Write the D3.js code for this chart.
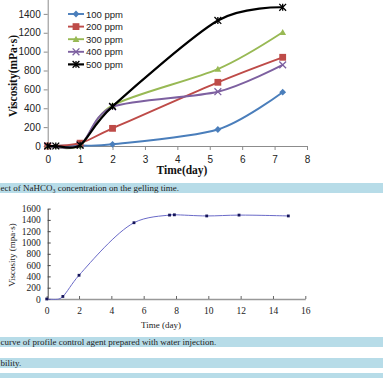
<!DOCTYPE html>
<html><head><meta charset="utf-8">
<script src="https://cdn.jsdelivr.net/npm/d3@7"></script>
<style>body{margin:0;background:#fff}svg{display:block}</style>
</head><body>
<script>
// ---- Top chart data ----
const seriesNames = ["100 ppm","200 ppm","300 ppm","400 ppm","500 ppm"];
const days100 = [0,1,2,5.25,7.25];
const visc100 = [0,5,18,175,570];
const days200 = [0,1,2,5.25,7.25];
const visc200 = [0,30,187,675,940];
const days300 = [0,1,2,5.25,7.25];
const visc300 = [0,5,430,815,1205];
const days400 = [0,1,2,5.25,7.25];
const visc400 = [0,10,415,575,860];
const days500 = [0,0.25,1,2,5.25,7.25];
const visc500 = [0,0,10,420,1330,1470];
const topXTicks = [0,1,2,3,4,5,6,7,8];
const topYTicks = [0,200,400,600,800,1000,1200,1400];
// ---- Bottom chart data ----
const botDays = [0,0.75,1,2,5.4,7.6,7.9,9.9,11.9,14.95];
const botVisc = [0,0,45,420,1350,1485,1490,1470,1485,1470];
const botXTicks = [0,2,4,6,8,10,12,14,16];
const botYTicks = [0,200,400,600,800,1000,1200,1400,1600];
// ---- Captions ----
const captions = [
  "ect of NaHCO\u2083 concentration on the gelling time.",
  "curve of profile control agent prepared with water injection.",
  "bility.",
  ""
];

const W=383,H=378;
const serif="'Liberation Serif', 'Times New Roman', serif";
const sans="'Liberation Sans', Arial, sans-serif";
const svg=d3.select("body").append("svg").attr("width",W).attr("height",H);

// caption bands
const bandY=[183,337,358,373];
const bandH=[10,10,10,8];
captions.forEach((t,i)=>{
  svg.append("rect").attr("x",0).attr("y",bandY[i]).attr("width",W).attr("height",bandH[i]).attr("fill","#b7dce8");
  if(t) svg.append("text").attr("x",0.5).attr("y",bandY[i]+8).attr("font-family",serif)
     .attr("font-size",9).attr("fill","#222").text(t);
});

// ---- Top chart ----
const x1=d3.scaleLinear().domain([0,8]).range([47.7,307]);
const y1=d3.scaleLinear().domain([0,1600]).range([146,-5]);
const g1=svg.append("g");
const axisCol="#8c8c8c";
const xa1=g1.append("g").attr("transform","translate(0,146)")
  .call(d3.axisBottom(x1).tickValues(topXTicks).tickSize(4).tickSizeOuter(0).tickFormat(d3.format("d")));
const ya1=g1.append("g").attr("transform","translate(47.7,0)")
  .call(d3.axisLeft(y1).tickValues(topYTicks).tickSize(4).tickSizeOuter(0).tickFormat(d3.format("d")));
[xa1,ya1].forEach(a=>{
  a.selectAll("path,line").attr("stroke",axisCol);
  a.selectAll("text").attr("font-family",sans).attr("font-size",10).attr("fill","#222");
});
xa1.selectAll("text").attr("dy","1em").attr("y",7);
ya1.selectAll("text").attr("x",-7);

g1.append("text").attr("transform","translate(17,76) rotate(-90)").attr("text-anchor","middle")
  .attr("font-family",serif).attr("font-weight","bold").attr("font-size",11.5)
  .attr("fill","#111").text("Viscosity(mPa\u00b7s)");
g1.append("text").attr("x",182).attr("y",174).attr("text-anchor","middle")
  .attr("font-family",serif).attr("font-weight","bold").attr("font-size",11.5)
  .attr("fill","#111").text("Time(day)");

const colors=["#4a7ebb","#be4b48","#98b954","#7d60a0","#000000"];
const allDays=[days100,days200,days300,days400,days500];
const allVisc=[visc100,visc200,visc300,visc400,visc500];
const line1=d3.line().x(d=>x1(d[0])).y(d=>y1(d[1])).curve(d3.curveCardinal.tension(0.15));

function marker(g,type,cx,cy,col){
  const s=3.4;
  if(type===0){ g.append("path").attr("d",`M${cx},${cy-s} L${cx+s},${cy} L${cx},${cy+s} L${cx-s},${cy}Z`).attr("fill",col); }
  else if(type===1){ g.append("rect").attr("x",cx-s).attr("y",cy-s).attr("width",2*s).attr("height",2*s).attr("fill",col); }
  else if(type===2){ g.append("path").attr("d",`M${cx},${cy-s} L${cx+s},${cy+s*0.8} L${cx-s},${cy+s*0.8}Z`).attr("fill",col); }
  else if(type===3){ g.append("path").attr("d",`M${cx-s},${cy-s}L${cx+s},${cy+s}M${cx-s},${cy+s}L${cx+s},${cy-s}`).attr("stroke",col).attr("stroke-width",1.3); }
  else { g.append("path").attr("d",`M${cx-s},${cy-s}L${cx+s},${cy+s}M${cx-s},${cy+s}L${cx+s},${cy-s}M${cx},${cy-s}L${cx},${cy+s}`).attr("stroke",col).attr("stroke-width",1.3); }
}

allDays.forEach((ds,i)=>{
  const pts=ds.map((d,j)=>[d,allVisc[i][j]]);
  g1.append("path").attr("d",line1(pts)).attr("fill","none").attr("stroke",colors[i]).attr("stroke-width",i===4?2.2:1.9);
  pts.forEach(p=>marker(g1,i,x1(p[0]),y1(p[1]),colors[i]));
});

// legend
const lg=g1.append("g");
seriesNames.forEach((n,i)=>{
  const yy=14+i*12.6;
  lg.append("line").attr("x1",68).attr("x2",84).attr("y1",yy).attr("y2",yy).attr("stroke",colors[i]).attr("stroke-width",i===4?2.2:1.9);
  marker(lg,i,76,yy,colors[i]);
  lg.append("text").attr("x",86).attr("y",yy+3.5).attr("font-family",sans).attr("font-size",9.5).attr("fill","#222").text(n);
});

// ---- Bottom chart ----
const x2=d3.scaleLinear().domain([0,16]).range([46.7,305.3]);
const y2=d3.scaleLinear().domain([0,1600]).range([299,208.6]);
const g2=svg.append("g");
const xa2=g2.append("g").attr("transform","translate(0,299)")
  .call(d3.axisBottom(x2).tickValues(botXTicks).tickSize(-3).tickSizeOuter(0).tickFormat(d3.format("d")));
xa2.select("path").attr("stroke","#999").attr("stroke-width",1.5);
xa2.selectAll("line").attr("stroke","#666");
xa2.selectAll("text").attr("y",6).attr("dy","0.9em");
const ya2=g2.append("g").attr("transform","translate(47.7,0)")
  .call(d3.axisLeft(y2).tickValues(botYTicks).tickSize(-3).tickSizeOuter(0).tickFormat(d3.format("d")));
ya2.selectAll("path,line").attr("stroke","#444");
ya2.selectAll("text").attr("x",-7);
[xa2,ya2].forEach(a=>a.selectAll("text").attr("font-family",serif).attr("font-size",9.5).attr("fill","#222"));

g2.append("text").attr("transform","translate(15,255) rotate(-90)").attr("text-anchor","middle")
  .attr("font-family",serif).attr("font-size",9).attr("fill","#222").text("Viscosity (mpa\u00b7s)");
g2.append("text").attr("x",161).attr("y",328).attr("text-anchor","middle")
  .attr("font-family",serif).attr("font-size",9).attr("fill","#222").text("Time (day)");

const line2=d3.line().x(d=>x2(d[0])).y(d=>y2(d[1])).curve(d3.curveCatmullRom.alpha(0.5));
const pts2=botDays.map((d,j)=>[d,botVisc[j]]);
g2.append("path").attr("d",line2(pts2)).attr("fill","none").attr("stroke","#6a6ac8").attr("stroke-width",1);
g2.selectAll("rect.m").data(pts2.filter((d,j)=>j!==1)).enter().append("rect").attr("class","m")
  .attr("x",d=>x2(d[0])-1.4).attr("y",d=>y2(d[1])-1.4).attr("width",2.8).attr("height",2.8).attr("fill","#14145a");
</script>
</body></html>
